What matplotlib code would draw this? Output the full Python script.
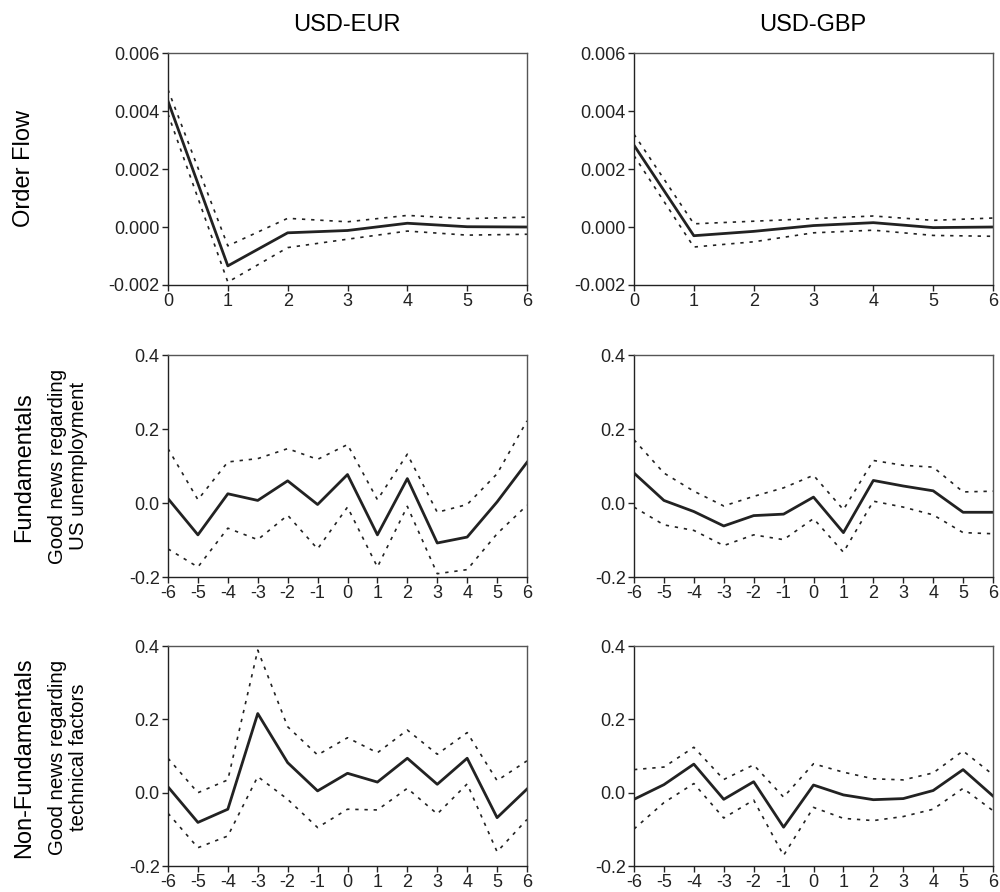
import matplotlib
matplotlib.use("Agg")
import matplotlib.pyplot as plt

plt.rcParams['font.family'] = ['Liberation Sans', 'DejaVu Sans']
plt.rcParams['axes.unicode_minus'] = False

# horizons
h_of = [0, 1, 2, 3, 4, 5, 6]
h_news = [-6, -5, -4, -3, -2, -1, 0, 1, 2, 3, 4, 5, 6]

# Order flow, USD-EUR
eur_of = [0.00434, -0.00134, -0.0002, -0.00012, 0.00013, 0.00001, 0.0]
eur_of_hi = [0.00474, -0.00065, 0.0003, 0.00018, 0.0004, 0.00029, 0.00034]
eur_of_lo = [0.0039, -0.0019, -0.00071, -0.00042, -0.00014, -0.00028, -0.00025]

# Order flow, USD-GBP
gbp_of = [0.00282, -0.0003, -0.00015, 0.00005, 0.00015, -0.00002, 0.0]
gbp_of_hi = [0.0032, 0.00011, 0.0002, 0.00029, 0.00038, 0.00023, 0.00031]
gbp_of_lo = [0.00246, -0.00069, -0.00051, -0.0002, -0.00011, -0.00029, -0.00032]

# Fundamentals, USD-EUR
eur_fund = [0.012, -0.086, 0.025, 0.007, 0.06, -0.004, 0.077, -0.086, 0.066, -0.108, -0.092, 0.003, 0.11]
eur_fund_hi = [0.147, 0.009, 0.111, 0.12, 0.147, 0.118, 0.158, 0.009, 0.132, -0.025, -0.004, 0.079, 0.222]
eur_fund_lo = [-0.124, -0.173, -0.068, -0.099, -0.033, -0.124, -0.011, -0.173, -0.009, -0.191, -0.18, -0.083, -0.006]

# Fundamentals, USD-GBP
gbp_fund = [0.081, 0.007, -0.023, -0.062, -0.034, -0.03, 0.016, -0.08, 0.061, 0.046, 0.033, -0.025, -0.025]
gbp_fund_hi = [0.171, 0.081, 0.032, -0.008, 0.018, 0.041, 0.075, -0.018, 0.115, 0.102, 0.097, 0.03, 0.032]
gbp_fund_lo = [-0.011, -0.059, -0.074, -0.115, -0.086, -0.099, -0.042, -0.133, 0.005, -0.011, -0.032, -0.08, -0.083]

# Non-fundamentals, USD-EUR
eur_tech = [0.016, -0.081, -0.045, 0.216, 0.082, 0.005, 0.053, 0.029, 0.094, 0.023, 0.094, -0.068, 0.01]
eur_tech_hi = [0.094, 0.0, 0.035, 0.389, 0.18, 0.103, 0.15, 0.109, 0.171, 0.105, 0.164, 0.033, 0.087]
eur_tech_lo = [-0.056, -0.15, -0.118, 0.044, -0.018, -0.095, -0.045, -0.047, 0.012, -0.058, 0.024, -0.161, -0.073]

# Non-fundamentals, USD-GBP
gbp_tech = [-0.018, 0.022, 0.078, -0.018, 0.03, -0.094, 0.021, -0.006, -0.019, -0.016, 0.006, 0.063, -0.009]
gbp_tech_hi = [0.063, 0.07, 0.124, 0.036, 0.076, -0.012, 0.079, 0.056, 0.038, 0.035, 0.054, 0.114, 0.049]
gbp_tech_lo = [-0.099, -0.027, 0.025, -0.069, -0.02, -0.171, -0.04, -0.07, -0.076, -0.065, -0.045, 0.012, -0.049]

fig = plt.figure(figsize=(10, 8.92), dpi=100)

cols = [0.168, 0.634]
rows = [(0.6805, 0.26), (0.3531, 0.2489), (0.0291, 0.2466)]
panels = [
    [(h_of, eur_of, eur_of_hi, eur_of_lo), (h_of, gbp_of, gbp_of_hi, gbp_of_lo)],
    [(h_news, eur_fund, eur_fund_hi, eur_fund_lo), (h_news, gbp_fund, gbp_fund_hi, gbp_fund_lo)],
    [(h_news, eur_tech, eur_tech_hi, eur_tech_lo), (h_news, gbp_tech, gbp_tech_hi, gbp_tech_lo)],
]

for r, (bottom, height) in enumerate(rows):
    for c, left in enumerate(cols):
        ax = fig.add_axes([left, bottom, 0.359, height])
        x, y, hi, lo = panels[r][c]
        ax.plot(x, hi, color='#222222', lw=1.2, ls=(0, (2, 3.5)))
        ax.plot(x, lo, color='#222222', lw=1.2, ls=(0, (2, 3.5)))
        ax.plot(x, y, color='#222222', lw=2)
        ax.set_xlim(x[0], x[-1])
        ax.set_xticks(x)
        if r == 0:
            ax.set_ylim(-0.002, 0.006)
            ax.set_yticks([-0.002, 0.0, 0.002, 0.004, 0.006])
            ax.set_yticklabels(['-0.002', '0.000', '0.002', '0.004', '0.006'])
        else:
            ax.set_ylim(-0.2, 0.4)
            ax.set_yticks([-0.2, 0.0, 0.2, 0.4])
            ax.set_yticklabels(['-0.2', '0.0', '0.2', '0.4'])
        ax.tick_params(direction='out', length=4, width=1, labelsize=13, pad=2,
                       colors='#222222')
        for s in ax.spines.values():
            s.set_color('#555555')
            s.set_linewidth(1)
        ax.spines['left'].set_color('#222222')
        ax.spines['bottom'].set_color('#222222')

fig.text(0.347, 0.972, 'USD-EUR', ha='center', va='center', fontsize=17)
fig.text(0.813, 0.972, 'USD-GBP', ha='center', va='center', fontsize=17)

fig.text(0.024, 0.811, 'Order Flow', rotation=90, ha='center', va='center', fontsize=17)
fig.text(0.024, 0.4765, 'Fundamentals', rotation=90, ha='center', va='center', fontsize=17)
fig.text(0.068, 0.4775, 'Good news regarding\nUS unemployment', rotation=90,
         ha='center', va='center', multialignment='center', fontsize=14.7, linespacing=1.15)
fig.text(0.024, 0.151, 'Non-Fundamentals', rotation=90, ha='center', va='center', fontsize=17)
fig.text(0.068, 0.151, 'Good news regarding\ntechnical factors', rotation=90,
         ha='center', va='center', multialignment='center', fontsize=14.7, linespacing=1.15)

fig.savefig('out.png', dpi=100)
